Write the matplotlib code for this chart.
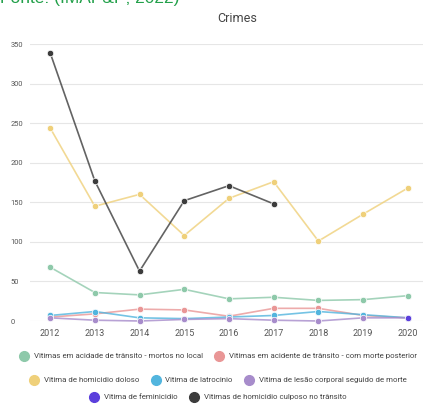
import numpy as np
import matplotlib.pyplot as plt
from matplotlib.lines import Line2D

plt.rcParams["font.family"] = ["Roboto", "DejaVu Sans"]

years = [2012, 2013, 2014, 2015, 2016, 2017, 2018, 2019, 2020]
nan = np.nan

mortos_local = [68, 36, 33, 40, 28, 30, 26, 27, 32]
morte_posterior = [5, 9, 15, 14, 6, 16, 16, 7, 4]
homicidio_doloso = [244, 145, 160, 108, 155, 176, 101, 135, 168]
latrocinio = [7, 12, 4, 3, 5, 7, 12, 8, 4]
lesao_corporal = [4, 1, 0, 2, 3, 1, 0, 4, 4]
feminicidio = [nan, nan, nan, nan, nan, nan, nan, nan, 4]
homicidio_culposo = [339, 177, 63, 152, 171, 148, nan, nan, nan]

series = [
    ("Vitimas em acidade de trânsito - mortos no local", mortos_local, "#8ec9aa"),
    ("Vitimas em acidente de trânsito - com morte posterior", morte_posterior, "#e99696"),
    ("Vitima de homicidio doloso", homicidio_doloso, "#efd07a"),
    ("Vitima de latrocinio", latrocinio, "#52b5de"),
    ("Vitima de lesão corporal seguido de morte", lesao_corporal, "#a78ccb"),
    ("Vitima de feminicidio", feminicidio, "#5b3fdc"),
    ("Vitimas de homicidio culposo no trânsito", homicidio_culposo, "#3c3c3c"),
]

W, H = 423, 405
fig = plt.figure(figsize=(W / 100, H / 100), dpi=100)
ax = fig.add_axes([30 / W, (H - 321) / H, (W - 30) / W, (321 - 44) / H])

for name, vals, color in series:
    ax.plot(years, vals, color=color, lw=1.2, alpha=0.8, clip_on=False, zorder=2)
    ax.plot(years, vals, ls="none", marker="o", ms=4.6, color=color,
            mec="white", mew=0.5, clip_on=False, zorder=3)

ax.set_xlim(2011.55, 2020.34)
ax.set_ylim(0, 350)
ax.set_yticks([0, 50, 100, 150, 200, 250, 300, 350])
ax.set_xticks(years)
ax.grid(axis="y", color="#e6e6e6", lw=0.8)
ax.set_axisbelow(True)
for s in ax.spines.values():
    s.set_visible(False)
ax.tick_params(length=0, colors="#555555")
ax.tick_params(axis="x", labelsize=6.5, pad=6)
ax.tick_params(axis="y", labelsize=5.4, pad=14)
for lbl in ax.get_yticklabels():
    lbl.set_horizontalalignment("left")

fig.text(237 / W, 1 - 18 / H, "Crimes", ha="center", va="center",
         fontsize=9, color="#444444")
fig.text(0 / W, 1 + 1 / H, "Fonte: (IMAP&P; 2022)", ha="left", va="center",
         fontsize=12.5, color="#22a04a", family=["Liberation Sans", "DejaVu Sans"])


def legend_row(items, y):
    handles = [Line2D([], [], ls="none", marker="o", ms=7, color=c, mec=c)
               for _, _, c in items]
    labels = [n for n, _, _ in items]
    leg = fig.legend(handles, labels, loc="center", bbox_to_anchor=(218 / W, 1 - y / H),
                     ncol=len(items), frameon=False, fontsize=5.7,
                     handletextpad=0.6, columnspacing=1.5, handlelength=1.2)
    for t in leg.get_texts():
        t.set_color("#444444")


legend_row(series[0:2], 356)
legend_row(series[2:5], 380)
legend_row(series[5:7], 397)

fig.savefig("out.png", dpi=100)
